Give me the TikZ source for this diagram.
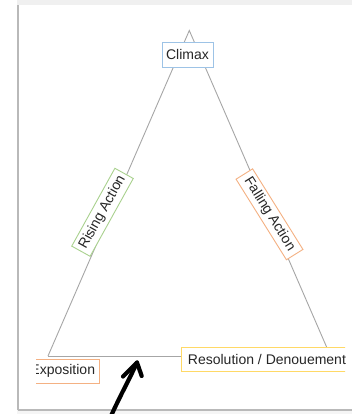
\documentclass[tikz,border=0pt]{standalone}
\usepackage{fontspec}
\setmainfont{Liberation Sans}
\definecolor{edgegray}{HTML}{A6A6A6}
\definecolor{cblue}{HTML}{9DC3E6}
\definecolor{cgreen}{HTML}{A9D18E}
\definecolor{corange}{HTML}{F4B183}
\definecolor{cyellow}{HTML}{FFD966}
\tikzset{
  edge/.style={draw=edgegray, line width=0.9pt},
  lbl/.style={draw, fill=white, line width=0.9pt, inner sep=0pt, font=\fontsize{14}{15}\selectfont, text=black!85},
  penline/.style={draw=black, line width=4.2pt, line cap=round, line join=round}
}
\begin{document}
\begin{tikzpicture}[x=1pt,y=-1pt]
\useasboundingbox (0,0) rectangle (352,414);
% page and shadow
\fill[white] (0,0) rectangle (352,414);
\fill[gray!12] (17,0) rectangle (352,6);
\fill[gray!8] (17,409) rectangle (352,414);
\fill[white] (19,5) rectangle (352,408.5);
\draw[gray!55, line width=2.2pt] (18,5) -- (18,410);
\draw[gray!55, line width=2pt] (18,409.5) -- (352,409.5);
% triangle corners
\coordinate (apex) at (189.3,30.5);
\coordinate (bl) at (48,356);
\coordinate (br) at (326.6,347);
\coordinate (bb) at (181,356);
\draw[edge] (bl) -- (apex) -- (br);
\draw[edge] (bl) -- (bb);
% labels
\node[lbl, draw=cblue, minimum width=51pt, minimum height=25pt] (climax) at (187.5,54.5) {Climax};
\node[lbl, draw=cgreen, minimum width=89pt, minimum height=21pt, rotate=61] (rising) at (102.5,212.3) {Rising Action};
\node[lbl, draw=corange, minimum width=95pt, minimum height=19.5pt, rotate=-58] (falling) at (269.5,214.3) {Falling Action};
\begin{scope}
\clip (36,0) rectangle (345,414);
\node[lbl, draw=corange, inner xsep=4.5pt, minimum height=24pt, anchor=east] (expo) at (100,371) {Exposition};
\node[lbl, draw=cyellow, minimum width=172pt, minimum height=24pt, anchor=west] (reso) at (180.5,359) {Resolution / Denouement};
\end{scope}
% hand-drawn arrow
\coordinate (tail) at (111,416);
\coordinate (tip) at (137,362.5);
\coordinate (hl) at (123,376.5);
\coordinate (hr) at (141.7,376);
\draw[penline] (tail) .. controls (120,396) and (130,378) .. (tip);
\draw[penline] (hl) -- (tip) -- (hr);
\end{tikzpicture}
\end{document}
